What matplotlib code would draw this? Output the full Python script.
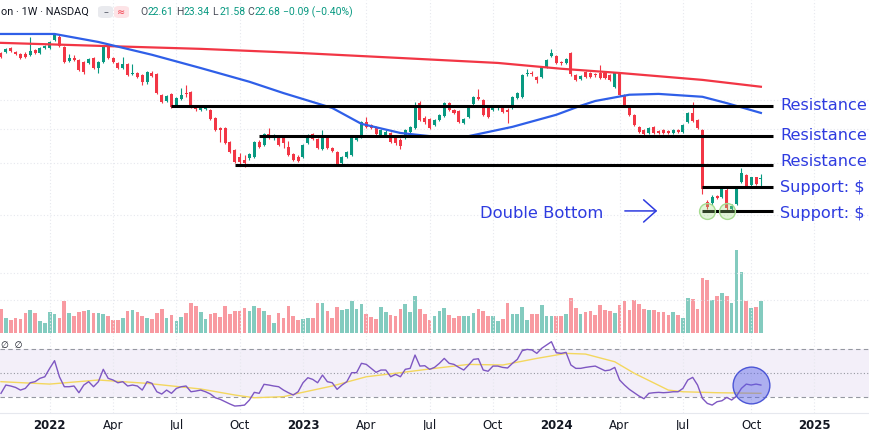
"""
Intel weekly chart: candles, 50/200-week SMAs, key levels, volume and RSI.
"""

import numpy as np
import pandas as pd
import matplotlib
matplotlib.use('Agg')
import matplotlib.pyplot as plt
from matplotlib.patches import FancyBboxPatch

first_week = '2021-10-25'

opens = [50.3, 50.7, 52.0, 50.7, 50.0, 50.0, 49.7, 51.3, 50.3, 52.0,
         52.0, 54.6, 55.7, 52.3, 47.8, 48.7, 48.1, 47.5, 47.2, 48.7,
         45.8, 47.5, 52.3, 48.7, 47.2, 45.8, 46.9, 44.1, 44.4, 43.8,
         41.9, 44.4, 44.1, 38.6, 37.2, 38.8, 36.2, 37.6, 39.1, 39.3,
         36.0, 35.1, 35.3, 35.1, 33.3, 31.3, 31.3, 28.6, 27.2, 26.0,
         25.5, 25.9, 26.0, 28.6, 28.1, 30.1, 29.3, 29.5, 29.3, 27.7,
         26.5, 26.0, 26.0, 28.4, 30.1, 29.2, 27.4, 29.7, 27.6, 26.9,
         25.1, 26.0, 26.4, 29.0, 29.5, 32.5, 31.9, 31.5, 29.9, 29.9,
         30.3, 29.3, 29.0, 29.5, 30.5, 31.3, 36.7, 33.3, 33.1, 31.9,
         32.9, 33.8, 36.7, 35.1, 34.9, 32.3, 33.6, 36.5, 38.1, 37.4,
         35.7, 35.1, 35.5, 35.5, 35.1, 35.5, 37.9, 38.1, 44.1, 44.4,
         43.3, 43.3, 46.0, 49.4, 49.4, 47.3, 47.2, 50.3, 43.8, 42.7,
         44.6, 44.4, 43.9, 44.4, 44.4, 43.8, 40.6, 44.4, 38.6, 35.7,
         34.0, 31.5, 30.9, 30.3, 31.5, 30.7, 30.9, 30.7, 30.3, 30.9,
         30.5, 32.5, 34.4, 32.9, 30.9, 19.6, 19.4, 20.3, 20.2, 21.1,
         18.7, 19.3, 22.2, 23.2, 21.8, 22.9, 22.61]
closes = [49.1, 51.6, 51.0, 50.0, 48.7, 49.1, 51.0, 50.3, 52.0, 52.6,
          53.9, 56.4, 52.6, 47.5, 48.7, 48.1, 45.2, 44.6, 48.4, 45.8,
          47.5, 52.3, 48.7, 47.5, 45.8, 46.9, 43.8, 44.4, 43.3, 41.9,
          44.6, 43.5, 39.1, 36.9, 38.4, 35.7, 37.9, 38.6, 38.8, 35.7,
          35.3, 35.5, 35.7, 33.1, 30.9, 30.9, 28.4, 26.9, 25.2, 25.2,
          25.0, 26.5, 28.6, 27.7, 30.1, 29.3, 29.9, 28.1, 28.4, 26.4,
          25.5, 25.4, 28.1, 29.9, 29.2, 27.6, 29.9, 27.6, 27.0, 24.8,
          26.0, 26.9, 29.3, 29.5, 32.5, 31.5, 31.3, 30.1, 30.9, 30.5,
          28.6, 28.4, 27.9, 30.9, 31.5, 36.2, 32.9, 32.5, 31.3, 32.9,
          34.0, 36.7, 35.1, 34.4, 32.5, 33.1, 36.0, 38.1, 37.6, 34.0,
          33.6, 35.5, 35.7, 34.6, 34.6, 38.1, 39.1, 43.8, 44.4, 44.1,
          42.4, 46.0, 48.1, 50.3, 47.2, 47.1, 48.4, 44.1, 42.4, 43.5,
          43.3, 43.3, 43.7, 43.0, 43.0, 42.4, 44.4, 38.6, 36.2, 34.0,
          31.9, 30.5, 30.1, 31.3, 30.3, 30.3, 30.3, 30.3, 30.9, 30.5,
          31.9, 34.4, 32.7, 31.3, 21.2, 19.0, 20.2, 20.1, 21.4, 18.8,
          19.1, 21.4, 23.5, 21.7, 22.9, 21.9, 22.68]
highs = [50.7, 52.0, 52.3, 51.0, 50.3, 50.7, 55.7, 51.6, 52.3, 52.9,
         54.3, 56.8, 56.4, 52.6, 50.0, 49.7, 48.4, 47.8, 48.7, 49.0,
         47.8, 52.6, 52.6, 49.0, 47.5, 49.0, 47.2, 46.9, 44.6, 44.1,
         44.9, 44.9, 44.4, 38.8, 38.6, 39.1, 38.1, 40.3, 41.1, 39.6,
         36.2, 36.0, 36.2, 35.3, 33.6, 31.5, 31.5, 28.8, 27.4, 26.7,
         26.4, 26.7, 28.8, 29.0, 30.3, 31.3, 30.1, 29.7, 29.7, 28.8,
         26.7, 26.4, 28.3, 30.1, 30.3, 29.4, 30.9, 29.9, 27.7, 27.0,
         26.2, 27.0, 29.5, 29.7, 32.7, 33.5, 32.1, 31.7, 31.1, 30.9,
         30.5, 29.7, 29.3, 31.1, 31.7, 36.9, 37.2, 33.8, 33.3, 33.1,
         34.2, 36.9, 36.9, 35.3, 35.1, 33.3, 36.2, 38.4, 40.1, 37.6,
         36.0, 36.0, 36.2, 35.7, 35.5, 38.4, 39.3, 44.1, 45.5, 44.9,
         43.5, 46.3, 48.4, 51.6, 49.7, 47.8, 48.7, 50.7, 44.1, 43.8,
         44.9, 44.6, 44.4, 46.6, 44.6, 44.1, 44.6, 44.6, 38.8, 36.0,
         34.2, 31.7, 31.1, 31.5, 31.7, 30.9, 31.1, 30.9, 31.1, 31.1,
         32.1, 34.6, 36.9, 33.1, 31.1, 19.8, 20.4, 20.5, 21.5, 21.4,
         19.3, 21.5, 24.3, 23.4, 23.0, 23.0, 23.34]
lows = [48.8, 50.3, 50.7, 49.7, 48.4, 48.8, 49.4, 50.0, 50.0, 51.6,
        51.6, 54.3, 52.3, 47.2, 47.5, 47.8, 44.9, 44.1, 46.9, 45.5,
        44.4, 47.2, 48.4, 47.2, 45.5, 45.5, 43.5, 43.8, 43.0, 41.1,
        41.4, 43.3, 38.8, 36.7, 36.9, 35.5, 36.0, 37.4, 38.1, 35.5,
        34.9, 34.9, 35.1, 32.9, 30.7, 28.6, 28.3, 26.7, 25.0, 24.9,
        24.5, 25.5, 25.9, 27.6, 27.9, 29.2, 29.0, 27.9, 27.6, 26.2,
        25.4, 25.2, 25.9, 28.3, 29.0, 27.4, 27.2, 27.4, 26.9, 24.6,
        24.9, 25.9, 26.2, 28.8, 29.3, 31.3, 31.1, 29.9, 29.7, 29.5,
        28.4, 28.1, 27.4, 29.2, 30.1, 31.1, 32.7, 32.1, 31.1, 31.7,
        32.7, 33.6, 34.9, 34.2, 32.3, 32.1, 33.3, 36.2, 37.4, 33.8,
        33.3, 34.9, 35.1, 34.4, 32.3, 35.3, 37.6, 37.9, 43.5, 43.5,
        41.6, 43.0, 45.8, 49.1, 46.9, 46.6, 46.9, 43.5, 42.1, 42.4,
        43.0, 43.0, 43.3, 42.7, 42.7, 42.1, 40.3, 38.3, 36.0, 33.8,
        31.7, 30.3, 29.9, 30.1, 30.1, 30.1, 30.1, 30.1, 30.1, 30.3,
        30.3, 32.3, 32.5, 31.1, 20.6, 18.7, 19.2, 19.9, 20.1, 18.6,
        18.5, 19.2, 22.1, 21.5, 21.7, 21.8, 21.58]
# weekly volume, millions of shares
volumes = [237, 153, 133, 147, 137, 197, 230, 197, 123, 97,
           213, 190, 153, 323, 203, 170, 207, 220, 227, 197,
           197, 190, 173, 133, 127, 147, 220, 230, 213, 170,
           150, 137, 200, 243, 147, 177, 120, 160, 200, 303,
           267, 213, 143, 190, 197, 163, 273, 193, 223, 217,
           247, 217, 267, 247, 223, 177, 103, 200, 147, 267,
           173, 127, 137, 153, 153, 303, 297, 217, 150, 257,
           227, 240, 317, 243, 293, 187, 157, 143, 263, 207,
           180, 173, 243, 287, 210, 367, 237, 187, 133, 173,
           217, 247, 177, 150, 167, 167, 170, 200, 237, 223,
           167, 173, 120, 143, 303, 193, 187, 257, 130, 193,
           193, 277, 167, 173, 167, 167, 187, 353, 253, 187,
           207, 223, 177, 283, 230, 223, 200, 277, 317, 230,
           333, 287, 243, 227, 227, 213, 210, 180, 210, 180,
           147, 353, 343, 237, 550, 533, 333, 367, 400, 367,
           297, 827, 607, 320, 253, 257, 320]
rsi = [33.1, 40.0, 39.2, 38.0, 35.8, 37.2, 41.9, 42.8, 45.6, 46.9,
       53.9, 60.3, 46.9, 38.6, 38.6, 39.2, 33.6, 40.0, 42.8, 38.6,
       42.8, 53.1, 45.6, 44.2, 41.9, 42.8, 39.2, 40.0, 39.2, 35.8,
       42.8, 41.4, 34.4, 32.5, 35.8, 33.1, 37.2, 38.6, 39.2, 34.4,
       35.0, 35.8, 34.4, 32.5, 29.4, 28.1, 26.1, 24.2, 22.5, 22.8,
       23.3, 27.5, 33.9, 33.1, 40.6, 40.0, 39.2, 38.6, 35.8, 33.6,
       31.7, 34.4, 41.9, 46.1, 44.7, 41.9, 48.3, 42.8, 41.9, 36.4,
       40.0, 42.8, 50.3, 50.3, 58.1, 57.2, 53.9, 50.6, 52.5, 52.5,
       46.9, 48.9, 46.9, 53.1, 53.9, 65.0, 55.8, 56.1, 53.1, 54.7,
       58.1, 62.2, 58.1, 57.2, 54.7, 52.5, 56.7, 61.4, 61.9, 52.5,
       51.5, 55.8, 55.8, 54.7, 54.2, 58.1, 61.4, 68.6, 69.7, 69.2,
       66.4, 70.6, 73.3, 76.1, 66.9, 66.4, 67.2, 56.7, 53.9, 53.9,
       54.7, 55.3, 55.8, 53.9, 51.9, 52.5, 54.7, 44.2, 40.0, 36.4,
       33.6, 30.8, 28.6, 33.1, 33.6, 33.9, 33.6, 33.9, 34.4, 34.4,
       37.2, 44.2, 46.4, 40.0, 28.9, 24.7, 23.3, 26.1, 26.9, 29.7,
       27.5, 30.8, 37.2, 40.8, 40.0, 40.8, 40.0]

# moving averages, read at a few weeks along the curves
ma50_week = [0, 11, 20, 31, 41, 51, 58, 68, 74, 82, 88, 96, 105, 114,
             119, 122, 129, 135, 144, 149, 156]
ma50_val = [56.7, 56.7, 53.9, 49.7, 45.7, 41.9, 39.0, 35.5, 32.1, 30.3,
            29.7, 29.7, 31.5, 34.0, 36.0, 37.1, 38.6, 38.8, 38.1, 36.6, 34.4]
ma200_week = [0, 20, 41, 61, 82, 102, 115, 127, 144, 156]
ma200_val = [53.6, 52.6, 51.6, 50.3, 48.7, 47.2, 45.5, 44.3, 42.4, 40.6]
rsi_ma_week = [0, 10, 20, 30, 41, 48, 52, 58, 61, 68, 75, 82, 89, 96, 103,
               110, 116, 120, 126, 130, 137, 140, 147, 156]
rsi_ma_val = [42.8, 40.8, 44.2, 41.4, 36.7, 31.7, 29.4, 30.3, 33.1, 39.2,
              46.9, 50.3, 53.9, 57.2, 56.7, 62.2, 66.4, 65.8, 59.4, 49.8,
              35.8, 34.4, 33.6, 33.1]

levels = [36.0, 29.8, 24.7, 21.5, 18.5]
level_from = ['2022-06-27', '2022-10-31', '2022-09-26', '2024-07-29', '2024-07-29']
# only the part of each label that fits in the picture
level_labels = ['Resistance', 'Resistance', 'Resistance', 'Support: $', 'Support: $']
double_bottom_weeks = ['2024-08-05', '2024-09-02']
circled_rsi_week = '2024-10-07'

tick_dates = ['2022-01-03', '2022-04-04', '2022-07-04', '2022-10-03',
              '2023-01-02', '2023-04-03', '2023-07-03', '2023-10-02',
              '2024-01-01', '2024-04-01', '2024-07-01', '2024-10-07',
              '2025-01-06']
tick_labels = ['2022', 'Apr', 'Jul', 'Oct', '2023', 'Apr', 'Jul', 'Oct',
               '2024', 'Apr', 'Jul', 'Oct', '2025']

title = 'on · 1W · NASDAQ'
ohlc_fields = [('O', '22.61'), ('H', '23.34'), ('L', '21.58'), ('C', '22.68')]
change_text = '−0.09 (−0.40%)'

GREEN = '#089981'
RED = '#f23645'
BLUE_TXT = '#2e3be0'
GRID = '#e6e8ee'
W, H = 870, 430


def week_no(dates):
    d = pd.to_datetime(dates) - pd.Timestamp(first_week)
    return np.asarray(d.days) / 7.0


def rect(top, bottom):
    """pixel rows from the top of the image -> axes rectangle"""
    return [0, 1 - bottom / H, 1, (bottom - top) / H]


def bare(ax):
    ax.set_facecolor('none')
    for s in ax.spines.values():
        s.set_visible(False)
    ax.tick_params(which='both', left=False, right=False, bottom=False,
                   top=False, labelleft=False, labelbottom=False)
    ax.set_xlim(-0.2, 178.4)


def main():
    o = np.array(opens)
    c = np.array(closes)
    hi = np.array(highs)
    lo = np.array(lows)
    x = np.arange(len(o))
    col = np.where(c >= o, GREEN, RED)
    ticks = week_no(tick_dates)

    fig = plt.figure(figsize=(W / 100, H / 100), dpi=100)
    fig.patch.set_facecolor('white')

    ax_vol = fig.add_axes(rect(233, 333))
    ax = fig.add_axes(rect(0, 337))
    ax_rsi = fig.add_axes(rect(338, 413))
    for a in (ax_vol, ax, ax_rsi):
        bare(a)

    # volume
    ax_vol.bar(x, volumes, width=0.75, color=col, alpha=0.5, linewidth=0)
    ax_vol.set_ylim(0, 1000)

    # price pane
    ax.set_yscale('log')
    ax.set_ylim(8.33, 70.3)
    ax.set_yticks([])
    ax.set_yticks([], minor=True)
    for p in [10.5, 12.5, 18.0, 25.0, 31.1, 37.4]:
        ax.axhline(p, color=GRID, lw=0.8, ls=(0, (1, 2)), zorder=0)
    for t in ticks:
        ax.axvline(t, color=GRID, lw=0.8, ls=(0, (1, 2)), zorder=0)

    body_lo = np.minimum(o, c)
    body_h = np.maximum(np.abs(c - o), body_lo * 0.005)
    ax.vlines(x, lo, hi, colors=col, lw=0.8, zorder=2)
    ax.bar(x, body_h, bottom=body_lo, width=0.62, color=col, linewidth=0, zorder=3)

    ax.plot(ma200_week, ma200_val, color=RED, lw=1.6, zorder=4)
    ax.plot(ma50_week, ma50_val, color='#2f5fe8', lw=1.6, zorder=4)

    line_end = 158.5
    label_dy = [0, 0, 3, 0, -1.5]
    for lev, start, lab, dy in zip(levels, week_no(level_from), level_labels, label_dy):
        ax.hlines(lev, start, line_end, color='black', lw=2.2, zorder=5)
        ax.annotate(lab, (line_end + 1.5, lev), xytext=(0, dy),
                    textcoords='offset points', color=BLUE_TXT, fontsize=11.6,
                    ha='left', va='center', annotation_clip=False)

    ax.scatter(week_no(double_bottom_weeks), [levels[4]] * 2, s=130,
               facecolor=(0.62, 0.86, 0.5, 0.3), edgecolor='#a6dc90', lw=1, zorder=6)
    ax.annotate('', xy=(135.3, levels[4]), xytext=(127.5, levels[4]),
                arrowprops=dict(arrowstyle='->,head_length=0.45,head_width=0.4',
                                color=BLUE_TXT, lw=1.1, mutation_scale=20))
    ax.annotate('Double Bottom', (123.6, levels[4]), xytext=(0, -1.5),
                textcoords='offset points', color=BLUE_TXT, fontsize=11.8,
                ha='right', va='center')

    # RSI pane
    ax_rsi.set_ylim(16.7, 79.2)
    ax_rsi.axhspan(30, 70, color='#7e57c2', alpha=0.09, lw=0, zorder=0)
    for lev, ls in [(70, (0, (4, 3))), (50, (0, (1, 2))), (30, (0, (4, 3)))]:
        ax_rsi.axhline(lev, color='#9598a1', lw=0.8, ls=ls, zorder=1)
    for t in ticks:
        ax_rsi.axvline(t, color=GRID, lw=0.8, ls=(0, (1, 2)), zorder=0)
    ax_rsi.plot(x, rsi, color='#7e57c2', lw=1.0, zorder=3)
    ax_rsi.plot(rsi_ma_week, rsi_ma_val, color='#f3d75e', lw=1.0, zorder=2)
    ax_rsi.scatter(week_no([circled_rsi_week]), [40], s=700,
                   facecolor=(0.35, 0.39, 0.90, 0.45), edgecolor='#4b55d6', lw=1, zorder=5)
    ax_rsi.spines['bottom'].set_visible(True)
    ax_rsi.spines['bottom'].set_color(GRID)
    ax_rsi.set_xticks(ticks)
    ax_rsi.set_xticklabels(tick_labels)
    ax_rsi.tick_params(axis='x', labelbottom=True, length=0, pad=4,
                       labelsize=8.5, labelcolor='#131722')
    for lab in ax_rsi.get_xticklabels():
        if lab.get_text().isdigit():
            lab.set_fontweight('bold')

    # header
    fig.text(1 / W, 1 - 12 / H, title, ha='left', va='center',
             fontsize=7.8, color='#131722', family='Roboto')
    fig.patches.append(FancyBboxPatch((98 / W, 1 - 18 / H), 15 / W, 12 / H,
                                      boxstyle='round,pad=0,rounding_size=0.006',
                                      transform=fig.transFigure,
                                      facecolor='#e9eaee', edgecolor='none'))
    fig.patches.append(FancyBboxPatch((114 / W, 1 - 18 / H), 15 / W, 12 / H,
                                      boxstyle='round,pad=0,rounding_size=0.006',
                                      transform=fig.transFigure,
                                      facecolor='#fde3e6', edgecolor='none'))
    fig.text(105.5 / W, 1 - 12 / H, '–', ha='center', va='center',
             fontsize=7, color='#555a66')
    fig.text(121.5 / W, 1 - 12 / H, '≈', ha='center', va='center',
             fontsize=7, color=RED)
    xs = [140, 176, 212, 247]
    for px, (letter, val) in zip(xs, ohlc_fields):
        fig.text(px / W, 1 - 12 / H, letter, ha='left', va='center',
                 fontsize=7.5, color='#4a4e5a', family='Roboto')
        fig.text((px + 8) / W, 1 - 12 / H, val, ha='left', va='center',
                 fontsize=7.5, color=GREEN, family='Roboto')
    fig.text(283 / W, 1 - 12 / H, change_text, ha='left', va='center',
             fontsize=7.5, color=GREEN, family='Roboto')
    fig.text(1 / W, 1 - 345 / H, '∅  ∅', ha='left', va='center',
             fontsize=6.5, color='#131722')

    fig.savefig('out.png', dpi=100)


if __name__ == "__main__":
    main()
